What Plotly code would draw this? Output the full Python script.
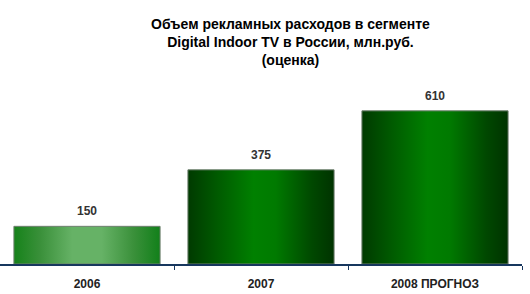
import plotly.graph_objects as go

categories = ["2006", "2007", "2008 ПРОГНОЗ"]
values = [150, 375, 610]
title_lines = ["Объем рекламных расходов в сегменте",
               "Digital Indoor TV в России, млн.руб.",
               "(оценка)"]

bar_width = 0.84
scales = [
    [[0, "#16821a"], [0.18, "#3a903a"], [0.4, "#66b266"], [0.6, "#66b266"], [0.82, "#3a903a"], [1, "#12801a"]],
    [[0, "#003a00"], [0.2, "#005a00"], [0.45, "#008000"], [0.6, "#007a00"], [0.85, "#004800"], [1, "#003300"]],
    [[0, "#003a00"], [0.2, "#005a00"], [0.45, "#008000"], [0.6, "#007a00"], [0.85, "#004800"], [1, "#003300"]],
]

fig = go.Figure()
for i, (c, v) in enumerate(zip(categories, values)):
    x0, x1 = i - bar_width / 2, i + bar_width / 2
    fig.add_trace(go.Scatter(
        x=[x0, x0, x1, x1, x0], y=[0, v, v, 0, 0],
        mode="lines", fill="toself",
        line=dict(color="#6f7f6f", width=1),
        fillgradient=dict(type="horizontal", colorscale=scales[i]),
        hoverinfo="skip", showlegend=False, name=c,
    ))
    fig.add_annotation(x=i, y=v, text=str(v), showarrow=False,
                       yanchor="bottom", yshift=6,
                       font=dict(family="Liberation Sans", size=12, color="#333333", weight=700))

fig.add_annotation(text="<br>".join(title_lines), xref="paper", yref="paper",
                   x=290 / 522, y=1 + 76 / 174, xanchor="center", yanchor="top",
                   showarrow=False, align="center",
                   font=dict(family="Liberation Sans", size=14, color="#000000", weight=700))

fig.update_layout(
    width=530, height=294,
    margin=dict(l=0, r=8, t=90, b=30),
    paper_bgcolor="white", plot_bgcolor="white",
    xaxis=dict(range=[-0.5, 2.5], tickvals=list(range(len(categories))), ticktext=categories,
               showgrid=False, zeroline=False, showline=True, linecolor="#17375e", linewidth=1.5,
               ticks="", ticklabelstandoff=8,
               tickfont=dict(family="Liberation Sans", size=12, color="#222222", weight=700),
               minor=dict(tickvals=[0.5, 1.5, 2.5], ticks="outside", ticklen=4,
                          tickcolor="#17375e", tickwidth=1),
               fixedrange=True),
    yaxis=dict(range=[0, 693], visible=False, showgrid=False, zeroline=False, fixedrange=True),
)

fig.write_html("out.html")
